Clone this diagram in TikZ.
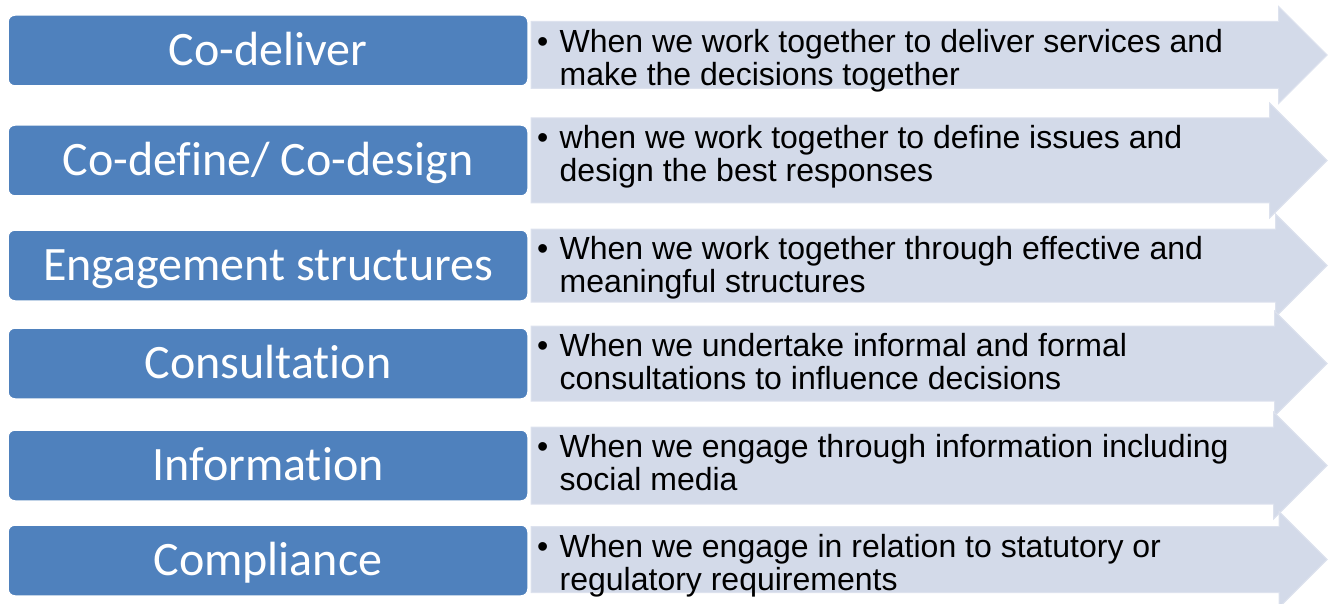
\documentclass[tikz,border=0pt]{standalone}
\usepackage{fontspec}
\setmainfont{Liberation Sans}
\newfontfamily\boxfont[Ligatures=NoCommon]{Carlito}
\usetikzlibrary{positioning}
\usetikzlibrary{shapes.arrows}
\usetikzlibrary{backgrounds}
\definecolor{boxblue}{HTML}{4F81BD}
\definecolor{bandfill}{HTML}{D3DAE9}
\definecolor{bandedge}{HTML}{DDE2EE}
\newcommand{\bulletbox}{\makebox[24.5pt][l]{\hspace*{2pt}\textbullet}}
\newcommand{\descindent}{\hspace*{24.5pt}}

\begin{document}
\begin{tikzpicture}[x=1pt, y=1pt,
	tier/.style={draw=white, line width=1.5pt, fill=boxblue, rounded corners=7pt, minimum width=520pt, minimum height=71pt, inner sep=0pt, outer sep=0pt, text height=36pt, text depth=6pt, text=white, font=\boxfont\fontsize{48}{48}\selectfont},
	band/.style={single arrow, single arrow head extend=15pt, single arrow tip angle=90, minimum height=796pt, minimum width=0pt, inner xsep=0pt, outer sep=0pt, fill=bandfill, draw=bandedge, line width=1pt},
	desc/.style={anchor=north west, align=left, inner sep=0pt, font=\fontsize{32}{33}\selectfont}]
			\useasboundingbox (0,0) rectangle (1335,-604);
			\node[tier] (codeliver) at (268,-50.5) {Co-deliver};
			\node[tier, below=39pt of codeliver] (codefine) {Co-define/ Co-design};
			\node[tier, below=34pt of codefine] (engagement) {Engagement structures};
			\node[tier, below=27pt of engagement] (consultation) {Consultation};
			\node[tier, below=31pt of consultation] (information) {Information};
			\node[tier, below=24pt of information] (compliance) {Compliance};
			\begin{scope}[on background layer]
				\node[band, inner ysep=33pt, right=3pt of codeliver, yshift=-4.5pt] (codeliverarr) {};
				\node[band, inner ysep=42pt, right=3pt of codefine] (codefinearr) {};
				\node[band, inner ysep=36pt, right=3pt of engagement] (engagementarr) {};
				\node[band, inner ysep=37pt, right=3pt of consultation] (consultationarr) {};
				\node[band, inner ysep=38pt, right=3pt of information] (informationarr) {};
				\node[band, inner ysep=32.5pt, right=3pt of compliance, yshift=1pt] (compliancearr) {};
			\end{scope}
			\node[desc] (codelivertext) at ([xshift=4pt, yshift=26pt]codeliverarr.west) {\bulletbox When we work together to deliver services and\\\descindent make the decisions together};
			\node[desc] (codefinetext) at ([xshift=4pt, yshift=35pt]codefinearr.west) {\bulletbox when we work together to define issues and\\\descindent design the best responses};
			\node[desc] (engagementtext) at ([xshift=4pt, yshift=29pt]engagementarr.west) {\bulletbox When we work together through effective and\\\descindent meaningful structures};
			\node[desc] (consultationtext) at ([xshift=4pt, yshift=30pt]consultationarr.west) {\bulletbox When we undertake informal and formal\\\descindent consultations to influence decisions};
			\node[desc] (informationtext) at ([xshift=4pt, yshift=31pt]informationarr.west) {\bulletbox When we engage through information including\\\descindent social media};
			\node[desc] (compliancetext) at ([xshift=4pt, yshift=25.5pt]compliancearr.west) {\bulletbox When we engage in relation to statutory or\\\descindent regulatory requirements};
		\end{tikzpicture}
\end{document}
